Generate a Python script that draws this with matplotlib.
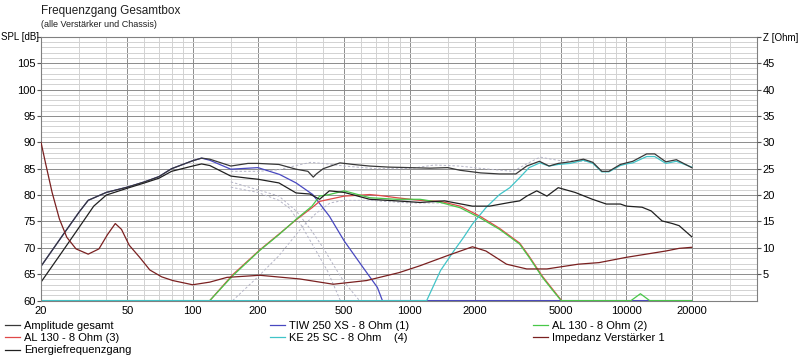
import matplotlib
matplotlib.use("Agg")
import matplotlib.pyplot as plt

plt.rcParams["font.family"] = ["Liberation Sans", "DejaVu Sans"]
plt.rcParams["font.size"] = 8

# x ticks / grid
major_freqs = [20, 50, 100, 200, 500, 1000, 2000, 5000, 10000, 20000]
major_labels = ["20", "50", "100", "200", "500", "1000", "2000", "5000", "10000", "20000"]
minor_freqs = [30, 40, 60, 70, 80, 90, 150, 300, 400, 600, 700, 800, 900,
               1500, 3000, 4000, 6000, 7000, 8000, 9000, 15000, 30000]

# Amplitude gesamt
amp_f = [20, 25, 30, 33, 40, 50, 60, 70, 80, 100, 110, 120, 150, 180, 200, 250, 300, 340, 360, 372,
         400, 478, 550, 655, 800, 1000, 1240, 1500, 1710, 2130, 2600, 3090, 3470, 3970, 4400, 4850,
         5500, 6340, 7000, 7700, 8300, 9380, 10000, 10700, 12400, 13500, 15200, 17000, 20000]
amp_db = [66.5, 72.2, 76.8, 79.0, 80.5, 81.5, 82.5, 83.5, 85.0, 86.5, 87.0, 86.8, 85.5, 86.0, 86.0,
          85.8, 84.9, 84.5, 83.4, 84.0, 85.0, 86.1, 85.8, 85.5, 85.3, 85.2, 85.1, 85.2, 84.7, 84.2,
          84.0, 84.0, 85.5, 86.4, 85.5, 86.0, 86.3, 86.8, 86.2, 84.5, 84.5, 85.8, 86.1, 86.4, 87.8,
          87.8, 86.3, 86.7, 85.2]

# Energiefrequenzgang
en_f = [20, 25, 30, 35, 40, 50, 60, 70, 80, 100, 110, 120, 150, 180, 200, 250, 300, 347, 385, 427,
        500, 655, 870, 1117, 1450, 1950, 2340, 2900, 3220, 3470, 3860, 4300, 4850, 5800, 6970, 8080,
        9380, 10000, 11800, 13000, 14600, 16300, 17500, 20000]
en_db = [63.5, 69.2, 73.9, 77.9, 80.0, 81.3, 82.3, 83.2, 84.5, 85.5, 85.9, 85.6, 83.6, 83.2, 83.0,
         82.3, 80.4, 80.2, 79.2, 80.8, 80.5, 79.2, 78.9, 78.6, 78.9, 77.9, 77.9, 78.6, 78.9, 79.8,
         80.8, 79.8, 81.4, 80.5, 79.2, 78.3, 78.3, 77.9, 77.7, 77.0, 75.1, 74.6, 74.2, 72.1]

# TIW 250 XS - 8 Ohm (1)
tiw_f = [20, 25, 30, 33, 40, 50, 60, 70, 80, 100, 110, 120, 150, 200, 252, 300, 358, 427, 500,
         610, 711, 750, 1000, 20000]
tiw_db = [66.5, 72.2, 76.8, 79.0, 80.5, 81.5, 82.5, 83.5, 85.0, 86.5, 87.0, 86.6, 84.9, 85.2, 83.9,
          82.3, 80.1, 76.0, 71.3, 66.3, 62.5, 60.0, 60.0, 60.0]

# AL 130 - 8 Ohm (2)
al2_f = [20, 120, 153, 204, 250, 300, 355, 385, 427, 500, 655, 870, 1117, 1390, 1710, 2110, 2600,
         3220, 3560, 4100, 4520, 5000, 10500, 11600, 12800, 20000]
al2_db = [60.0, 60.0, 64.7, 69.5, 72.5, 75.4, 77.9, 79.8, 80.1, 80.8, 79.5, 79.2, 79.2, 78.6, 77.6,
          75.7, 73.5, 70.7, 68.2, 64.4, 62.2, 60.0, 60.0, 61.3, 60.0, 60.0]

# AL 130 - 8 Ohm (3)
al3_f = [120, 153, 204, 250, 300, 355, 385, 427, 500, 655, 735, 870, 1117, 1390, 1710, 2110, 2600,
         3220, 3560, 4100, 4520, 5000]
al3_db = [60.0, 64.9, 69.6, 72.6, 75.3, 77.6, 78.8, 79.2, 79.8, 80.1, 79.9, 79.5, 79.0, 78.8, 77.9,
          76.0, 73.7, 70.9, 68.4, 64.6, 62.4, 60.1]

# KE 25 SC - 8 Ohm (4)
ke_f = [20, 1200, 1390, 1600, 1770, 1950, 2250, 2600, 2900, 3220, 3560, 3990, 4400, 4850, 5500,
        6340, 7000, 7700, 8300, 9380, 10000, 10700, 12400, 13500, 15200, 17000, 20000]
ke_db = [60.0, 60.0, 65.7, 69.4, 71.9, 74.5, 77.6, 80.1, 81.4, 83.3, 85.2, 86.1, 85.5, 85.8, 86.0,
         86.6, 86.0, 84.4, 84.4, 85.6, 85.9, 86.1, 87.3, 87.3, 86.0, 86.4, 85.3]

# Impedanz Verstaerker 1 (right axis, Ohm)
imp_f = [20, 21, 22.5, 24.3, 26.3, 29, 33, 37, 40.5, 44, 47, 51, 57, 63.5, 72, 81, 100, 120, 144,
         204, 312, 445, 634, 895, 1117, 1490, 1950, 2250, 2800, 3470, 4300, 6000, 7480, 10000,
         15200, 17500, 20000]
imp_ohm = [30.0, 26.0, 20.5, 15.5, 12.0, 9.8, 8.8, 9.8, 12.5, 14.6, 13.5, 10.5, 8.2, 5.8, 4.5, 3.8,
           3.0, 3.5, 4.4, 4.8, 4.1, 3.1, 3.8, 5.3, 6.6, 8.5, 10.2, 9.4, 6.9, 6.0, 6.0, 6.9, 7.2,
           8.2, 9.4, 9.9, 10.1]

# dashed target curves
lp1_f = [150, 200, 250, 300, 350, 400, 450, 500, 588]
lp1_db = [82.5, 81.0, 79.8, 77.0, 73.5, 70.0, 66.5, 63.5, 60.0]
lp2_f = [150, 200, 250, 280, 320, 370, 420, 480]
lp2_db = [81.5, 80.5, 79.0, 77.5, 74.0, 69.5, 65.5, 60.0]
hp_f = [153, 200, 250, 321, 370, 430, 500, 650, 1000, 1500]
hp_db = [60.0, 64.5, 68.5, 74.0, 76.5, 78.5, 79.0, 79.0, 78.5, 78.5]
tgt_f = [150, 200, 250, 300, 350, 400, 500, 700, 1000, 1300, 1700, 2200, 3000, 3500, 4000, 4500,
         5000, 7000]
tgt_db = [84.5, 84.5, 84.8, 85.6, 86.2, 86.0, 85.5, 85.0, 85.0, 85.7, 85.5, 85.0, 84.5, 86.0, 87.2,
          86.8, 86.5, 86.4]

fig = plt.figure(figsize=(8, 3.57), dpi=100)
ax = fig.add_axes([0.05125, 0.158, 0.895, 0.739])
ax.set_xscale("log")
ax.set_xlim(20, 40000)
ax.set_ylim(60, 110)

# grid
ax.set_xticks(major_freqs)
ax.set_xticklabels(major_labels)
ax.set_xticks(minor_freqs, minor=True)
ax.set_xticklabels([], minor=True)
ax.set_yticks(range(60, 111, 5))
ax.set_yticklabels([str(v) for v in range(60, 110, 5)] + [""])
ax.set_yticks(range(60, 111, 1), minor=True)
ax.grid(True, which="major", color="#8c8c8c", lw=0.7)
ax.grid(True, which="minor", color="#d2d2d2", lw=0.7)
ax.set_axisbelow(True)
ax.tick_params(axis="x", which="both", length=0, pad=4)
ax.tick_params(axis="y", which="major", length=3, pad=1, color="#555555")
ax.tick_params(axis="y", which="minor", length=0)
for s in ax.spines.values():
    s.set_color("#808080")
    s.set_linewidth(0.8)

dash = dict(lw=0.7, ls=(0, (2.5, 2)), color="#b4b4c6")
ax.plot(lp1_f, lp1_db, **dash)
ax.plot(lp2_f, lp2_db, **dash)
ax.plot(hp_f, hp_db, **dash)
ax.plot(tgt_f, tgt_db, **dash)

lw = 0.9
l_tiw, = ax.plot(tiw_f, tiw_db, color="#4848c0", lw=lw, label="TIW 250 XS - 8 Ohm (1)")
l_al3, = ax.plot(al3_f, al3_db, color="#e04848", lw=lw, label="AL 130 - 8 Ohm (3)")
l_al2, = ax.plot(al2_f, al2_db, color="#48c848", lw=lw, label="AL 130 - 8 Ohm (2)")
l_ke, = ax.plot(ke_f, ke_db, color="#40c4c8", lw=lw, label="KE 25 SC - 8 Ohm    (4)")
l_en, = ax.plot(en_f, en_db, color="#202020", lw=lw, label="Energiefrequenzgang")
l_amp, = ax.plot(amp_f, amp_db, color="#383838", lw=lw, label="Amplitude gesamt")

ax2 = ax.twinx()
ax2.set_ylim(0, 50)
ax2.set_yticks(range(5, 51, 5))
ax2.set_yticklabels([str(v) for v in range(5, 50, 5)] + ["Z [Ohm]"])
ax2.get_yticklabels()[-1].set_fontsize(7)
ax2.tick_params(axis="y", length=3, pad=1, color="#555555")
for s in ax2.spines.values():
    s.set_visible(False)
l_imp, = ax2.plot(imp_f, imp_ohm, color="#7a2020", lw=lw, label="Impedanz Verstärker 1")

fig.text(0.001, 0.897, "SPL [dB]", fontsize=7, ha="left", va="center")
fig.text(0.051, 0.968, "Frequenzgang Gesamtbox", fontsize=8.5, va="center", color="#202020")
fig.text(0.051, 0.931, "(alle Verstärker und Chassis)", fontsize=6.5, va="center", color="#202020")

leg_kw = dict(loc="upper left", frameon=False, fontsize=8, handlelength=1.4, handletextpad=0.35,
              labelspacing=0.22, borderpad=0, borderaxespad=0)
fig.legend(handles=[l_amp, l_al3, l_en], bbox_to_anchor=(0.006, 0.102), **leg_kw)
fig.legend(handles=[l_tiw, l_ke], bbox_to_anchor=(0.337, 0.102), **leg_kw)
fig.legend(handles=[l_al2, l_imp], bbox_to_anchor=(0.666, 0.102), **leg_kw)

fig.savefig("out.png", dpi=100, facecolor="white")
